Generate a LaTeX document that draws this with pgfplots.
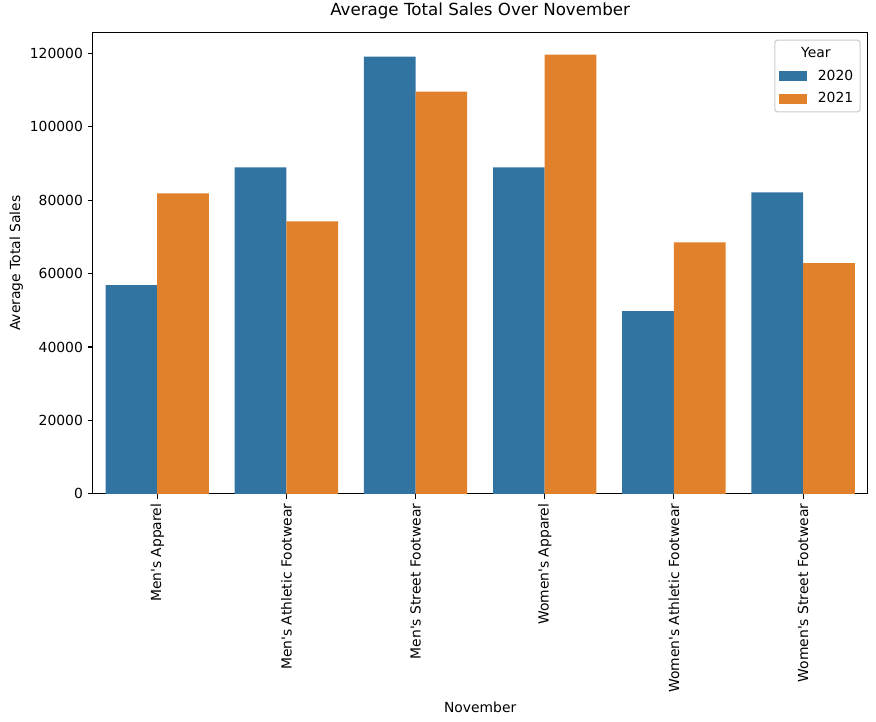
\documentclass[border=0pt]{standalone}
\usepackage{fontspec}
\setmainfont{DejaVu Sans}
\usepackage{pgfplots}
\pgfplotsset{compat=1.18}
\definecolor{cblue}{HTML}{3274A1}
\definecolor{corange}{HTML}{E1812C}
\newcommand{\q}{\textquotesingle}
\begin{document}
\begin{tikzpicture}
\useasboundingbox (-66.7pt,-164.2pt) rectangle (564pt,355.6pt);
\begin{axis}[
  at={(0,0)}, anchor=south west,
  scale only axis, width=558pt, height=332.1pt,
  xmin=-0.5, xmax=5.5, ymin=0, ymax=125600,
  ybar, bar width=0.4,
  xtick={0,1,2,3,4,5},
  xticklabels={Men\q s Apparel, Men\q s Athletic Footwear, Men\q s Street Footwear, Women\q s Apparel, Women\q s Athletic Footwear, Women\q s Street Footwear},
  xticklabel style={rotate=90, anchor=east, font=\fontsize{10}{12}\selectfont},
  ytick={0,20000,40000,60000,80000,100000,120000},
  scaled y ticks=false,
  yticklabel style={/pgf/number format/fixed, /pgf/number format/1000 sep={}, font=\fontsize{10}{12}\selectfont},
  /pgf/number format/assume math mode=true,
  tick align=outside, tick pos=left,
  major tick length=3.5pt,
  tick style={black, line width=0.8pt},
  axis line style={black, line width=0.8pt},
  xlabel={November}, ylabel={Average Total Sales},
  label style={font=\fontsize{10}{12}\selectfont},
  ylabel style={yshift=-2pt},
  title={Average Total Sales Over November},
  title style={at={(0.5,1)}, anchor=base, yshift=6pt, font=\fontsize{12}{14}\selectfont},
  legend style={at={(rel axis cs:1,1)}, anchor=north east, xshift=-5pt, yshift=-5pt,
    draw=black!20, line width=0.8pt, rounded corners=2pt, fill=white,
    font=\fontsize{10}{12}\selectfont, inner xsep=3pt, inner ysep=3pt, row sep=3.5pt,
    /tikz/every odd column/.append style={column sep=6pt}},
  legend cell align=left,
  legend image code/.code={\fill[#1, sharp corners] (0pt,-3.5pt) rectangle (20pt,3.5pt);},
]
\addlegendimage{empty legend}
\addlegendentry{\hspace{-12pt}Year}
\addplot[fill=cblue, draw=none, bar shift=-0.2] coordinates {
  (0,56820) (1,88910) (2,119090) (3,88910) (4,49760) (5,82110)};
\addlegendentry{2020}
\addplot[fill=corange, draw=none, bar shift=0.2] coordinates {
  (0,81840) (1,74230) (2,109570) (3,119630) (4,68520) (5,62810)};
\addlegendentry{2021}
\end{axis}
\end{tikzpicture}
\end{document}
